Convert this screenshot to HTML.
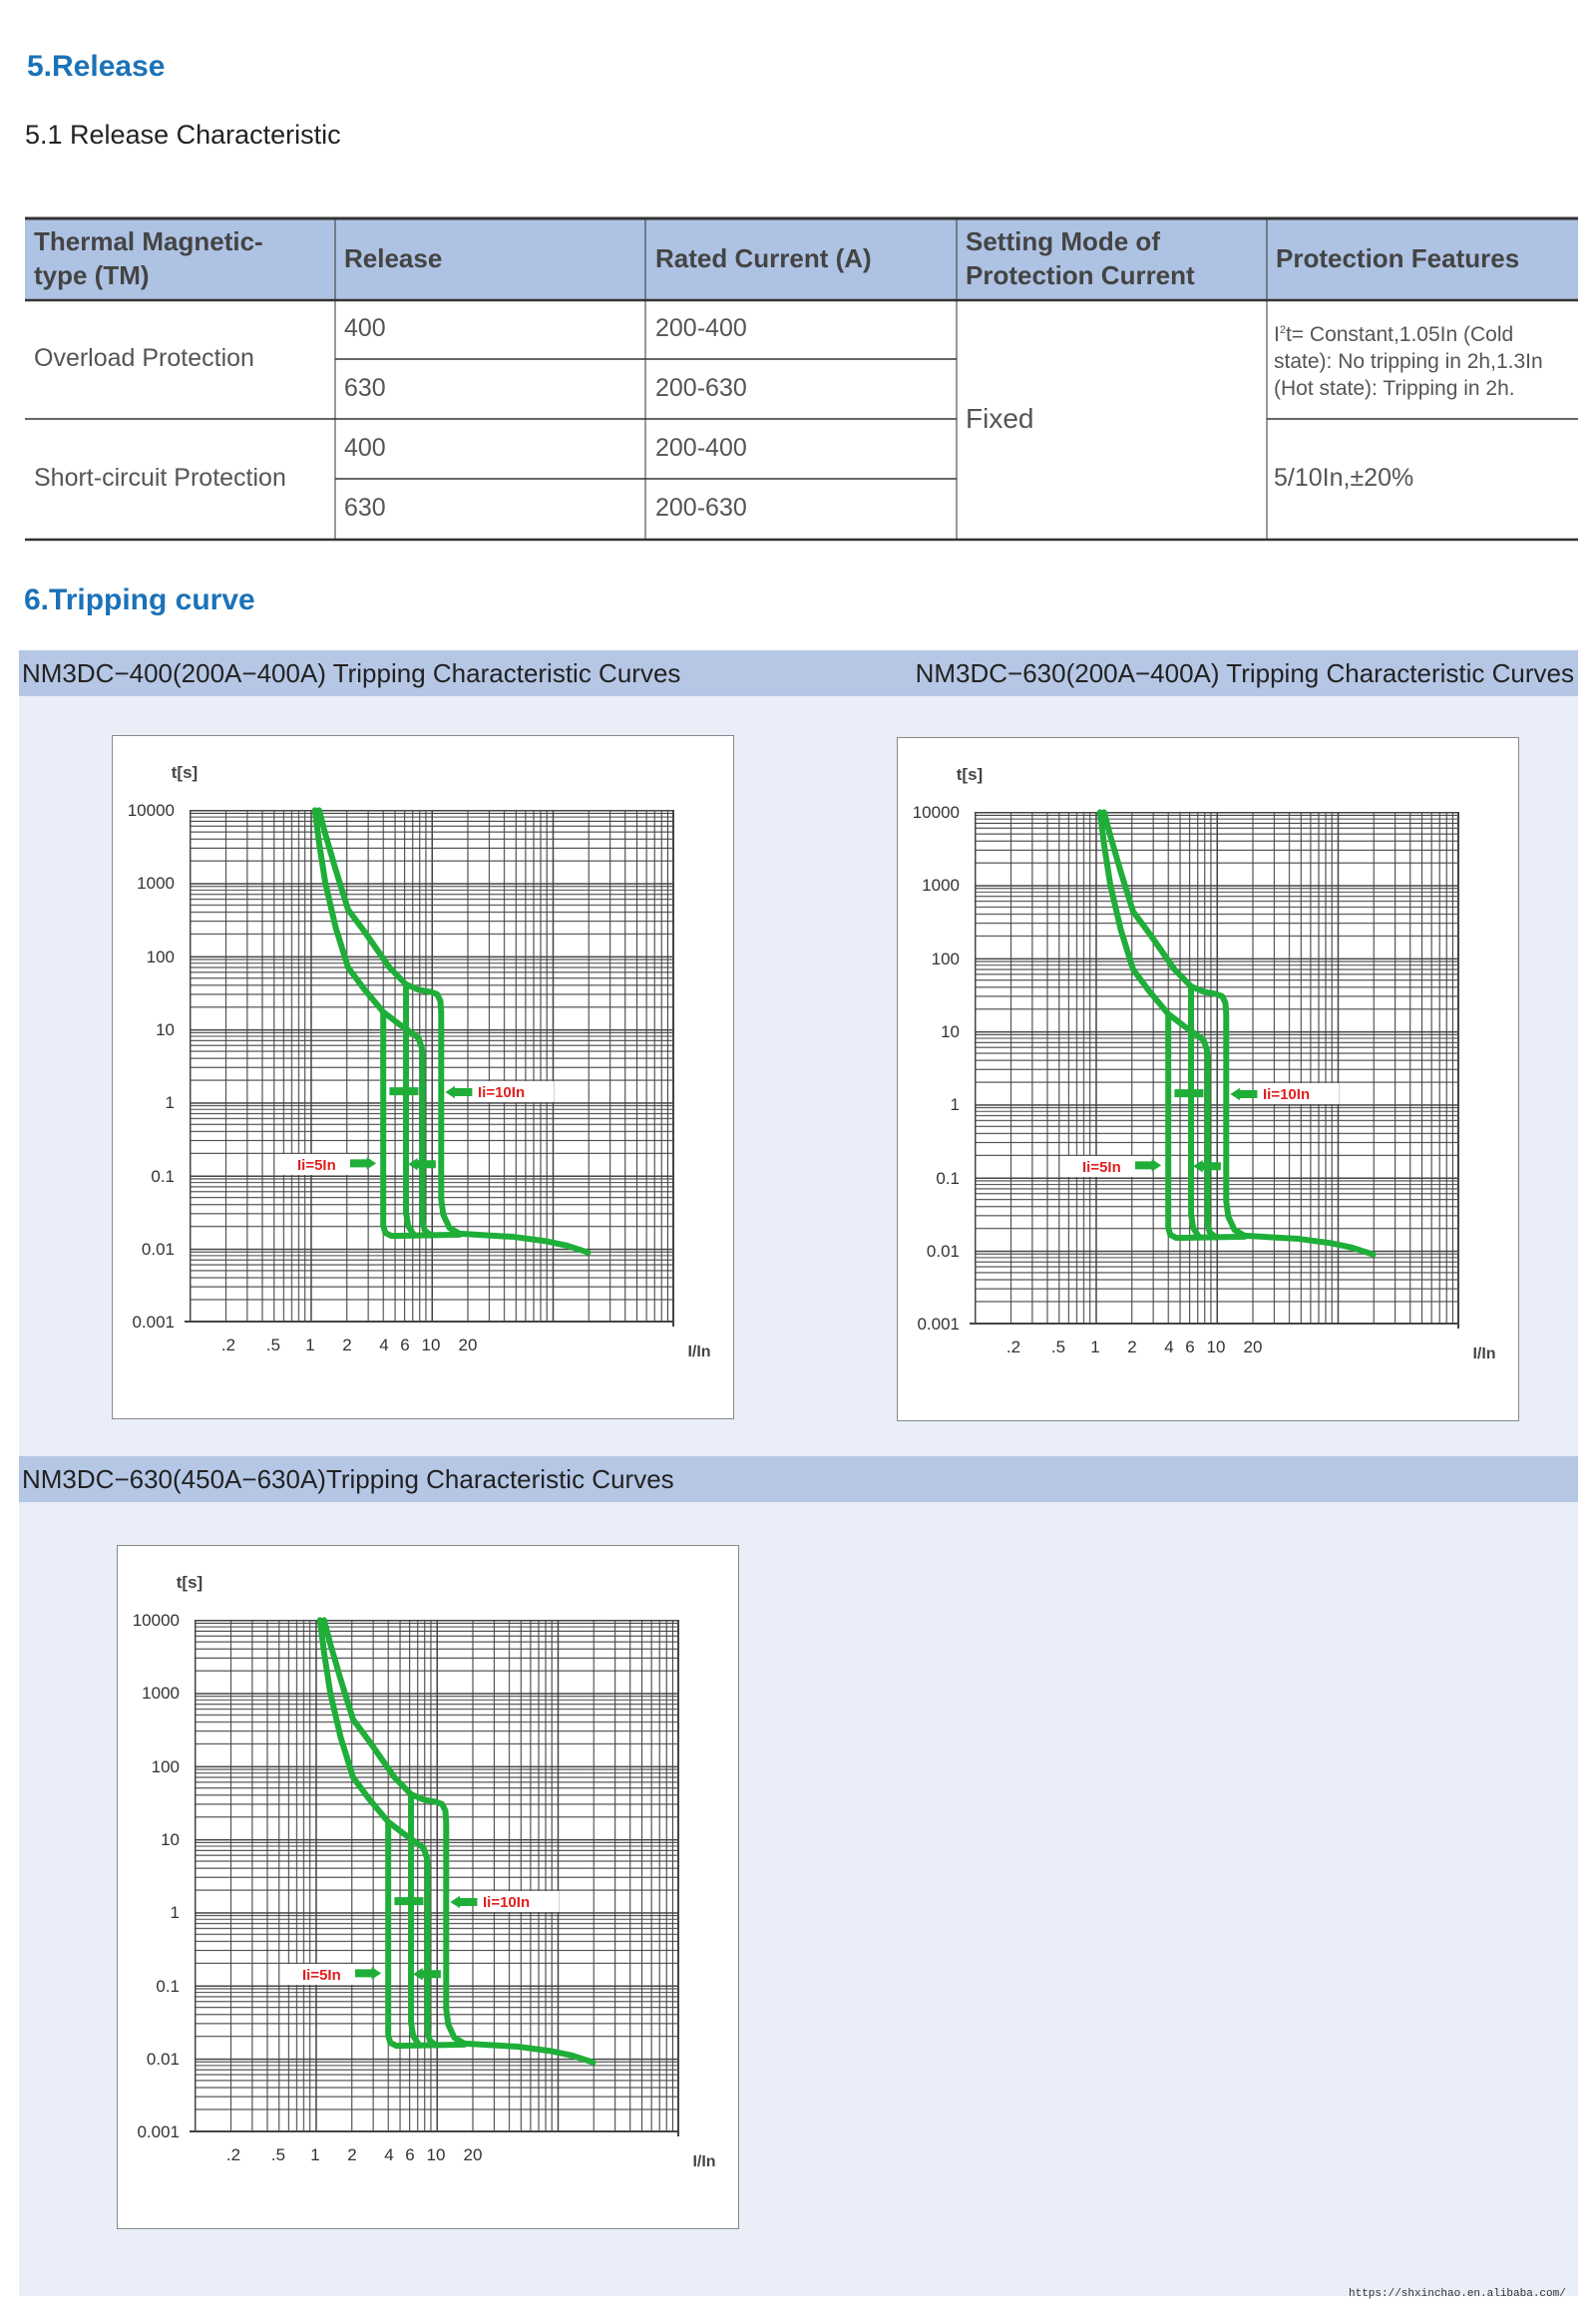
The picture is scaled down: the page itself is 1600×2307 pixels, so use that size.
<!DOCTYPE html>
<html><head><meta charset="utf-8"><style>
body{margin:0;width:1600px;height:2307px;background:#fff;position:relative;overflow:hidden;font-family:"Liberation Sans",sans-serif}
.a{position:absolute;white-space:nowrap}
.h{color:#1b72b8;font-weight:bold;font-size:30px;font-family:"Liberation Sans Narrow","Liberation Sans",sans-serif}
.th{color:#444;font-weight:bold;font-size:26px;font-family:"Liberation Sans Narrow","Liberation Sans",sans-serif;line-height:34px}
.td{color:#555;font-size:25px;font-family:"Liberation Sans Narrow","Liberation Sans",sans-serif}
.band{position:absolute;left:19px;width:1563px;height:46px;background:#b5c7e5}
.bt{font-size:26px;color:#222;font-family:"Liberation Sans Narrow","Liberation Sans",sans-serif}
</style></head><body>
<div class="a h" style="left:27px;top:50px">5.Release</div>
<div class="a" style="left:25px;top:120px;font-size:27px;color:#222;font-family:'Liberation Sans Narrow','Liberation Sans',sans-serif">5.1 Release Characteristic</div>

<div class="a" style="left:25px;top:218px;width:1557px;height:83px;background:#aec3e3"></div>
<svg class="a" style="left:0;top:0" width="1600" height="560">
<g stroke="#333" fill="none">
<line x1="25" y1="219" x2="1582" y2="219" stroke-width="3"/>
<line x1="25" y1="301" x2="1582" y2="301" stroke-width="2.5"/>
<line x1="25" y1="541" x2="1582" y2="541" stroke-width="2.5"/>
<line x1="336" y1="360" x2="959" y2="360" stroke-width="1.5"/>
<line x1="336" y1="480" x2="959" y2="480" stroke-width="1.5"/>
<line x1="25" y1="420" x2="959" y2="420" stroke-width="1.5"/>
<line x1="1270" y1="420" x2="1582" y2="420" stroke-width="1.5"/>
<line x1="336" y1="219" x2="336" y2="541" stroke-width="1"/>
<line x1="647" y1="219" x2="647" y2="541" stroke-width="1"/>
<line x1="959" y1="219" x2="959" y2="541" stroke-width="1"/>
<line x1="1270" y1="219" x2="1270" y2="541" stroke-width="1"/>
</g></svg>
<div class="a th" style="left:34px;top:225px">Thermal Magnetic-<br>type (TM)</div>
<div class="a th" style="left:345px;top:242px">Release</div>
<div class="a th" style="left:657px;top:242px">Rated Current (A)</div>
<div class="a th" style="left:968px;top:225px">Setting Mode of<br>Protection Current</div>
<div class="a th" style="left:1279px;top:242px">Protection Features</div>
<div class="a td" style="left:34px;top:345px">Overload Protection</div>
<div class="a td" style="left:34px;top:465px">Short-circuit Protection</div>
<div class="a td" style="left:345px;top:315px">400</div>
<div class="a td" style="left:345px;top:375px">630</div>
<div class="a td" style="left:345px;top:435px">400</div>
<div class="a td" style="left:345px;top:495px">630</div>
<div class="a td" style="left:657px;top:315px">200-400</div>
<div class="a td" style="left:657px;top:375px">200-630</div>
<div class="a td" style="left:657px;top:435px">200-400</div>
<div class="a td" style="left:657px;top:495px">200-630</div>
<div class="a td" style="left:968px;top:404px;font-size:28px">Fixed</div>
<div class="a td" style="left:1277px;top:318px;font-size:21px;line-height:27px;width:302px">I<sup style="font-size:11px">2</sup>t= Constant,1.05In (Cold<br>state): No tripping in 2h,1.3In<br>(Hot state): Tripping in 2h.</div>
<div class="a td" style="left:1277px;top:465px">5/10In,±20%</div>
<div class="a h" style="left:24px;top:585px">6.Tripping curve</div>

<div class="a" style="left:19px;top:652px;width:1563px;height:1650px;background:#e9eef8"></div>
<div class="band" style="top:652px"></div>
<div class="a bt" style="left:22px;top:660px">NM3DC−400(200A−400A) Tripping Characteristic Curves</div>
<div class="a bt" style="right:22px;top:660px">NM3DC−630(200A−400A) Tripping Characteristic Curves</div>
<div class="band" style="top:1460px"></div>
<div class="a bt" style="left:22px;top:1468px">NM3DC−630(450A−630A)Tripping Characteristic Curves</div>

<svg class="a" style="left:0;top:0" width="1600" height="2307">
<defs>
<pattern id="g" patternUnits="userSpaceOnUse" x="190" y="812" width="121.25" height="73.3">
<g stroke="#444" stroke-width="1.1">
<line x1="0.5" y1="0" x2="0.5" y2="74" stroke-width="2"/>
<line x1="36.5" y1="0" x2="36.5" y2="74"/><line x1="57.9" y1="0" x2="57.9" y2="74"/>
<line x1="73" y1="0" x2="73" y2="74"/><line x1="84.8" y1="0" x2="84.8" y2="74"/>
<line x1="94.4" y1="0" x2="94.4" y2="74"/><line x1="102.5" y1="0" x2="102.5" y2="74"/>
<line x1="109.5" y1="0" x2="109.5" y2="74"/><line x1="115.7" y1="0" x2="115.7" y2="74"/>
<line x1="0" y1="0.5" x2="122" y2="0.5" stroke-width="2"/>
<line x1="0" y1="3.4" x2="122" y2="3.4"/><line x1="0" y1="7.1" x2="122" y2="7.1"/>
<line x1="0" y1="11.4" x2="122" y2="11.4"/><line x1="0" y1="16.3" x2="122" y2="16.3"/>
<line x1="0" y1="22.1" x2="122" y2="22.1"/><line x1="0" y1="29.2" x2="122" y2="29.2"/>
<line x1="0" y1="38.3" x2="122" y2="38.3"/><line x1="0" y1="51.2" x2="122" y2="51.2"/>
</g></pattern>
<g id="chart">
<rect x="112.5" y="737.5" width="623" height="685" fill="#fff" stroke="#888"/>
<rect x="190" y="812" width="485" height="513" fill="url(#g)"/>
<line x1="675" y1="812" x2="675" y2="1330" stroke="#444" stroke-width="2"/>
<line x1="185" y1="1325" x2="675" y2="1325" stroke="#444" stroke-width="2"/>
<g font-family="Liberation Sans,sans-serif" font-size="17" fill="#333" text-anchor="end">
<text x="175" y="818">10000</text><text x="175" y="891">1000</text><text x="175" y="965">100</text>
<text x="175" y="1038">10</text><text x="175" y="1111">1</text><text x="175" y="1185">0.1</text>
<text x="175" y="1258">0.01</text><text x="175" y="1331">0.001</text></g>
<g font-family="Liberation Sans,sans-serif" font-size="17" fill="#333" text-anchor="middle">
<text x="229" y="1354">.2</text><text x="274" y="1354">.5</text><text x="311" y="1354">1</text>
<text x="348" y="1354">2</text><text x="385" y="1354">4</text><text x="406" y="1354">6</text>
<text x="432" y="1354">10</text><text x="469" y="1354">20</text></g>
<text x="701" y="1360" font-family="Liberation Sans,sans-serif" font-size="16" font-weight="bold" fill="#444" text-anchor="middle">I/In</text>
<text x="185" y="780" font-family="Liberation Sans,sans-serif" font-size="17" font-weight="bold" fill="#444" text-anchor="middle">t[s]</text>
<rect x="475" y="1084" width="80" height="21" fill="#fff"/>
<rect x="282" y="1157" width="67" height="21" fill="#fff"/>
<g transform="translate(100,720) scale(0.4149,0.4464)" fill="none" stroke="#1fae38" stroke-linejoin="round" stroke-linecap="round">
<g stroke-width="6">
<polyline vector-effect="non-scaling-stroke" points="530,207 545,260 570,340 600,430 640,480 670,520 700,560 740,598 770,610 800,615 815,620 823,635 825,660 825,1080 830,1115 845,1145 870,1158 1000,1165 1080,1175 1130,1185 1180,1200"/>
<polyline vector-effect="non-scaling-stroke" points="520,207 530,280 545,370 570,470 600,560 640,610 685,660 720,685 755,708 770,718 778,740 780,760 780,1130 785,1150 800,1162"/>
<polyline vector-effect="non-scaling-stroke" points="685,660 685,1140 690,1156 705,1163 870,1160"/>
<polyline vector-effect="non-scaling-stroke" points="740,598 740,1110 745,1140 760,1162"/>
</g>
<g stroke-width="8">
<line vector-effect="non-scaling-stroke" x1="700" y1="838" x2="770" y2="838" stroke-linecap="butt"/>
<line vector-effect="non-scaling-stroke" x1="855" y1="840" x2="900" y2="840" stroke-linecap="butt"/>
<line vector-effect="non-scaling-stroke" x1="605" y1="1000" x2="650" y2="1000" stroke-linecap="butt"/>
<line vector-effect="non-scaling-stroke" x1="760" y1="1002" x2="812" y2="1002" stroke-linecap="butt"/>
</g>
<polygon points="835,840 858,826 858,854" fill="#1fae38" stroke="none"/>
<polygon points="668,1000 645,986 645,1014" fill="#1fae38" stroke="none"/>
<polygon points="745,1002 768,988 768,1016" fill="#1fae38" stroke="none"/>
</g>
<g font-family="Liberation Sans,sans-serif" font-size="15" font-weight="bold" fill="#e02020">
<text x="479" y="1100">Ii=10In</text><text x="298" y="1173">Ii=5In</text></g>
</g>
</defs>
<use href="#chart"/>
<use href="#chart" transform="translate(787,2)"/>
<use href="#chart" transform="translate(5,812)"/>
</svg>
<div class="a" style="left:1352px;top:2294px;font-family:'Liberation Mono',monospace;font-size:11px;color:#333">https://shxinchao.en.alibaba.com/</div>
</body></html>
